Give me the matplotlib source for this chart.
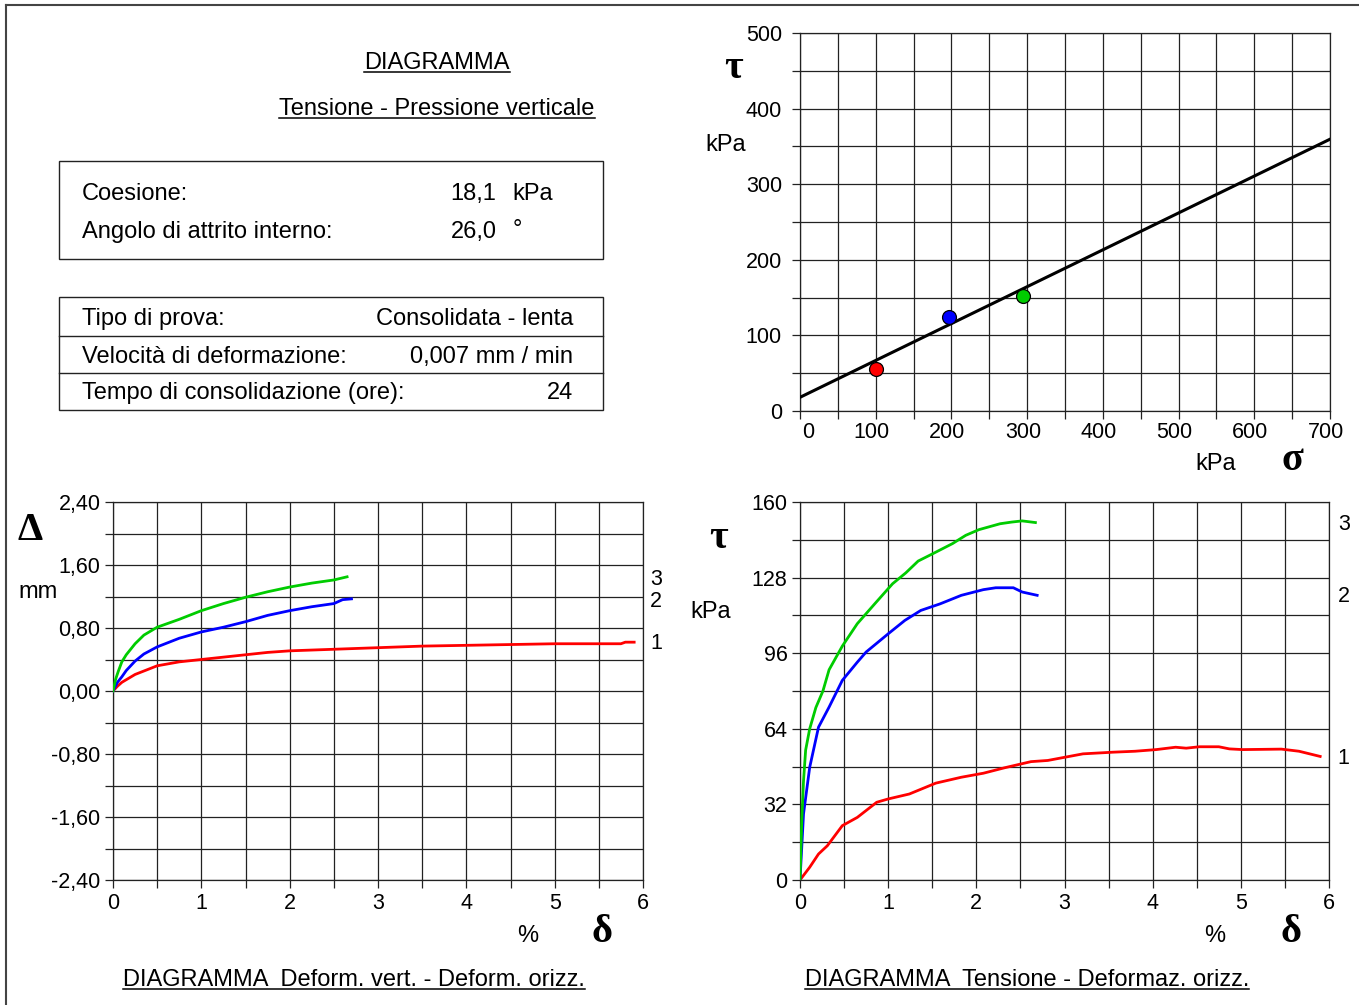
import numpy as np
import matplotlib
matplotlib.use("Agg")
import matplotlib.pyplot as plt
import matplotlib.transforms as mtransforms
from matplotlib.lines import Line2D
from matplotlib.ticker import FixedLocator, FixedFormatter

plt.rcParams['font.family'] = ['Liberation Sans', 'DejaVu Sans']

W, H = 1359, 1005

# ---------------- data ----------------
cohesion = 18.1          # kPa
phi_deg = 26.0           # degrees
sigma_pts = [100, 197, 295]
tau_pts = [56, 124, 152]
pt_colors = ['#ff0000', '#0000ff', '#00cc00']

# Deformation vert. vs horiz. (delta %, Delta mm)
dv_red_x = [0, 0.05, 0.1, 0.25, 0.5, 0.75, 1.0, 1.25, 1.5, 1.75, 2.0, 2.5, 3.0, 3.5, 4.0, 4.5, 5.0, 5.5, 5.75, 5.8, 5.9]
dv_red_y = [0, 0.06, 0.11, 0.21, 0.32, 0.37, 0.40, 0.43, 0.46, 0.49, 0.51, 0.53, 0.55, 0.57, 0.58, 0.59, 0.60, 0.60, 0.60, 0.62, 0.62]
dv_blue_x = [0, 0.05, 0.1, 0.15, 0.25, 0.35, 0.5, 0.75, 1.0, 1.25, 1.5, 1.75, 2.0, 2.25, 2.5, 2.6, 2.7]
dv_blue_y = [0, 0.11, 0.18, 0.26, 0.38, 0.47, 0.56, 0.67, 0.75, 0.81, 0.88, 0.96, 1.02, 1.07, 1.11, 1.16, 1.17]
dv_green_x = [0, 0.03, 0.06, 0.1, 0.15, 0.25, 0.35, 0.5, 0.75, 1.0, 1.25, 1.5, 1.75, 2.0, 2.25, 2.5, 2.65]
dv_green_y = [0, 0.15, 0.25, 0.37, 0.46, 0.60, 0.71, 0.81, 0.91, 1.02, 1.11, 1.19, 1.26, 1.32, 1.37, 1.41, 1.45]

# Shear stress vs horiz. deformation (delta %, tau kPa)
ts_red_x = [0, 0.11, 0.21, 0.31, 0.48, 0.65, 0.87, 1.0, 1.24, 1.54, 1.83, 2.08, 2.32, 2.62, 2.81, 3.01, 3.21, 3.55, 3.8, 4.04, 4.26, 4.38, 4.53, 4.75, 4.87, 5.02, 5.46, 5.66, 5.9]
ts_red_y = [0, 5.4, 11, 14.5, 23, 26.5, 32.9, 34.3, 36.4, 41, 43.5, 45.2, 47.5, 50.1, 50.6, 52, 53.4, 54.1, 54.5, 55.2, 56.2, 55.8, 56.4, 56.4, 55.5, 55.2, 55.4, 54.5, 52.3]
ts_blue_x = [0, 0.04, 0.11, 0.21, 0.33, 0.48, 0.65, 0.75, 1.0, 1.19, 1.37, 1.59, 1.83, 2.08, 2.22, 2.42, 2.52, 2.69]
ts_blue_y = [0, 28, 47.7, 64.7, 73.2, 84.5, 92.2, 96.5, 104.2, 109.9, 114.1, 116.9, 120.5, 122.9, 123.7, 123.7, 121.9, 120.5]
ts_green_x = [0, 0.02, 0.04, 0.064, 0.11, 0.18, 0.26, 0.33, 0.48, 0.65, 0.85, 1.05, 1.2, 1.34, 1.5, 1.73, 1.88, 2.03, 2.27, 2.4, 2.52, 2.67]
ts_green_y = [0, 25, 42, 55, 64, 73, 80, 89, 99, 108.5, 117, 125.4, 130, 135, 138, 142.4, 145.9, 148.3, 150.8, 151.5, 152, 151.3]

# ---------------- figure ----------------
fig = plt.figure(figsize=(W / 100, H / 100), dpi=100)

def fx(x):
    return x / W

def fy(y):
    return 1 - y / H

def ax_at(l, t, r, b):
    return fig.add_axes([fx(l), fy(b), fx(r) - fx(l), fy(t) - fy(b)])

GREEK = dict(family=['Liberation Serif', 'DejaVu Serif'], fontweight='bold', size=29)
BODY = 17
TICK = 15.5

def txt(x, y, s, ha='center', va='center', size=BODY, **kw):
    return fig.text(fx(x), fy(y), s, ha=ha, va=va, fontsize=size, **kw)

underlined = []
def utxt(x, y, s, size=BODY):
    t = txt(x, y, s, size=size)
    underlined.append(t)
    return t

def setup_grid(ax, xlim, ylim, xt, yt, xl, yl):
    ax.set_xlim(*xlim)
    ax.set_ylim(*ylim)
    ax.xaxis.set_major_locator(FixedLocator(xt))
    ax.xaxis.set_major_formatter(FixedFormatter(xl))
    ax.yaxis.set_major_locator(FixedLocator(yt))
    ax.yaxis.set_major_formatter(FixedFormatter(yl))
    ax.grid(True, color='#222222', lw=0.9)
    ax.tick_params(length=6, width=0.9, color='#222222', labelsize=TICK, pad=3)
    for sp in ax.spines.values():
        sp.set_color('#222222')
        sp.set_linewidth(0.9)
    ax.set_axisbelow(True)

# ---- Top-right: tau vs sigma ----
ax1 = ax_at(800, 33, 1330, 411)
xt = list(range(0, 701, 50))
yt = list(range(0, 501, 50))
setup_grid(ax1, (0, 700), (0, 500), xt, yt,
           [str(v) if v % 100 == 0 else '' for v in xt],
           [str(v) if v % 100 == 0 else '' for v in yt])
ax1.tick_params(axis='x', pad=2)
ax1.tick_params(axis='y', pad=7)
shift = mtransforms.ScaledTranslation(14 / 100, 0, fig.dpi_scale_trans)
for lab in ax1.get_xticklabels():
    lab.set_horizontalalignment('right')
    lab.set_transform(lab.get_transform() + shift)
sig_line = np.array([0, 700])
ax1.plot(sig_line, cohesion + np.tan(np.radians(phi_deg)) * sig_line, color='black', lw=2.2, zorder=3)
for s_, t_, c_ in zip(sigma_pts, tau_pts, pt_colors):
    ax1.plot([s_], [t_], 'o', color=c_, mec='black', mew=0.9, ms=10, zorder=4)

# ---- Bottom-left: Delta vs delta ----
ax2 = ax_at(113, 502, 643, 880)
xt2 = [i * 0.5 for i in range(13)]
yt2 = [round(-2.4 + i * 0.4, 2) for i in range(13)]
def fmt_c(v):
    s = f"{v:.2f}".replace('.', ',')
    return s
setup_grid(ax2, (0, 6), (-2.4, 2.4), xt2, yt2,
           [str(int(v)) if v == int(v) else '' for v in xt2],
           [fmt_c(v) if i % 2 == 0 else '' for i, v in enumerate(yt2)])
ax2.plot(dv_red_x, dv_red_y, color='#ff0000', lw=2.0, zorder=3)
ax2.plot(dv_blue_x, dv_blue_y, color='#0000ff', lw=2.0, zorder=3)
ax2.plot(dv_green_x, dv_green_y, color='#00cc00', lw=2.0, zorder=3)
tr2 = ax2.get_yaxis_transform()
ax2.text(1.0245, 1.42, '3', transform=tr2, fontsize=TICK, ha='center', va='center')
ax2.text(1.0245, 1.14, '2', transform=tr2, fontsize=TICK, ha='center', va='center')
ax2.text(1.0245, 0.60, '1', transform=tr2, fontsize=TICK, ha='center', va='center')

# ---- Bottom-right: tau vs delta ----
ax3 = ax_at(800, 502, 1329, 880)
yt3 = [i * 16 for i in range(11)]
setup_grid(ax3, (0, 6), (0, 160), xt2, yt3,
           [str(int(v)) if v == int(v) else '' for v in xt2],
           [str(v) if v % 32 == 0 else '' for v in yt3])
ax3.plot(ts_red_x, ts_red_y, color='#ff0000', lw=2.0, zorder=3)
ax3.plot(ts_blue_x, ts_blue_y, color='#0000ff', lw=2.0, zorder=3)
ax3.plot(ts_green_x, ts_green_y, color='#00cc00', lw=2.0, zorder=3)
tr3 = ax3.get_yaxis_transform()
ax3.text(1.028, 150.3, '3', transform=tr3, fontsize=TICK, ha='center', va='center')
ax3.text(1.028, 119.8, '2', transform=tr3, fontsize=TICK, ha='center', va='center')
ax3.text(1.028, 51.6, '1', transform=tr3, fontsize=TICK, ha='center', va='center')

# ---- axis symbols & units ----
txt(733, 68, 'τ', **GREEK)
txt(726, 145, 'kPa')
txt(1216, 464, 'kPa')
txt(1292, 461, 'σ', **GREEK)
txt(30, 531, 'Δ', **GREEK)
txt(38, 592, 'mm')
txt(528, 936, '%')
txt(602, 932, 'δ', **GREEK)
txt(718, 539, 'τ', **GREEK)
txt(711, 612, 'kPa')
txt(1215, 936, '%')
txt(1291, 932, 'δ', **GREEK)

# ---- titles ----
utxt(437, 63, 'DIAGRAMMA')
utxt(437, 109, 'Tensione - Pressione verticale')
utxt(354, 980, 'DIAGRAMMA  Deform. vert. - Deform. orizz.')
utxt(1027, 980, 'DIAGRAMMA  Tensione - Deformaz. orizz.')

# ---- info boxes ----
def box(l, t, r, b):
    fig.add_artist(plt.Rectangle((fx(l), fy(b)), fx(r) - fx(l), fy(t) - fy(b),
                                 transform=fig.transFigure, fill=False, ec='#222222', lw=1.0))

def hline(x0, x1, y, color='#222222', lw=1.0):
    fig.add_artist(Line2D([fx(x0), fx(x1)], [fy(y), fy(y)], transform=fig.transFigure, color=color, lw=lw))

box(59, 161, 603, 259)
txt(82, 194, 'Coesione:', ha='left')
txt(496, 194, '18,1', ha='right')
txt(512, 194, 'kPa', ha='left')
txt(82, 232, 'Angolo di attrito interno:', ha='left')
txt(497, 232, '26,0', ha='right')
txt(513, 230, '°', ha='left')

box(59, 297, 603, 410)
hline(59, 603, 336)
hline(59, 603, 373)
txt(82, 319, 'Tipo di prova:', ha='left')
txt(573, 319, 'Consolidata - lenta', ha='right')
txt(82, 357, 'Velocità di deformazione:', ha='left')
txt(573, 357, '0,007 mm / min', ha='right')
txt(82, 393, 'Tempo di consolidazione (ore):', ha='left')
txt(573, 393, '24', ha='right')

# ---- outer border (left/top) ----
fig.add_artist(Line2D([fx(6), fx(6)], [fy(5), fy(H)], transform=fig.transFigure, color='#444444', lw=1.5))
fig.add_artist(Line2D([fx(6), fx(W)], [fy(5), fy(5)], transform=fig.transFigure, color='#444444', lw=1.5))

# ---- underlines ----
fig.canvas.draw()
r = fig.canvas.get_renderer()
for t in underlined:
    bb = t.get_window_extent(r)
    yb = bb.y0 + 2
    fig.add_artist(Line2D([bb.x0 / W, bb.x1 / W], [yb / H, yb / H], transform=fig.transFigure, color='black', lw=1.1))

fig.savefig('out.png', dpi=100)
